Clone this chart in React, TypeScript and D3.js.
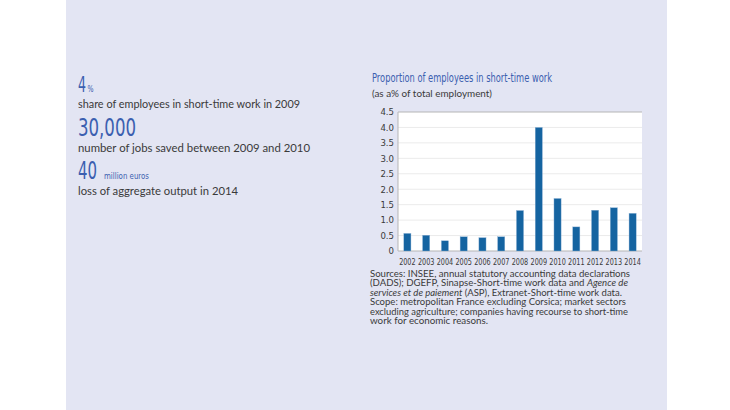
import * as d3 from 'd3';
import React from 'react';

// data
const years = ['2002', '2003', '2004', '2005', '2006', '2007', '2008', '2009', '2010', '2011', '2012', '2013', '2014'];
const shares = [0.57, 0.51, 0.33, 0.46, 0.43, 0.46, 1.31, 4.0, 1.7, 0.78, 1.32, 1.4, 1.22];
const yTicks = [0, 0.5, 1.0, 1.5, 2.0, 2.5, 3.0, 3.5, 4.0, 4.5];

const keyFigures = [
  { big: '4', unit: '%', caption: 'share of employees in short-time work in 2009' },
  { big: '30,000', unit: '', caption: 'number of jobs saved between 2009 and 2010' },
  { big: '40', unit: 'million euros', caption: 'loss of aggregate output in 2014' }
];

const condensed = "'Liberation Sans Narrow', 'DejaVu Sans Condensed', sans-serif";
const body = "Lato, 'Open Sans', sans-serif";
const blue = '#3b5fb0';
const ink = '#3a3a3a';

export default function App() {
  const W = 730;
  const H = 410;
  const margin = { top: 112, left: 398, right: 88, bottom: 159 };
  const plotW = W - margin.left - margin.right;
  const plotH = H - margin.top - margin.bottom;

  const x = d3.scaleBand().domain(years).range([0, plotW]).paddingInner(0.62).paddingOuter(0.31);
  const y = d3.scaleLinear().domain([0, 4.5]).range([plotH, 0]);

  return (
    <div style={{ position: 'fixed', left: 0, top: 0 }}>
      <svg width={W} height={H} style={{ display: 'block' }}>
        <rect x={0} y={0} width={W} height={H} fill="#ffffff" />
        <rect x={66} y={0} width={601} height={H} fill="#e3e5f3" />

        {/* key figures on the left */}
        {keyFigures.map((k, i) => {
          const top = [76, 120, 163][i];
          return (
            <g key={k.big}>
              <text
                x={78}
                y={top + 16}
                fill={blue}
                fontFamily={condensed}
                fontSize={i === 0 ? 22 : 24}
                textLength={i === 1 ? 58 : i === 0 ? 8 : 19}
                lengthAdjust="spacingAndGlyphs"
              >
                {k.big}
              </text>
              {k.unit && (
                <text
                  x={i === 0 ? 87.5 : 104}
                  y={top + 16}
                  fill={blue}
                  fontFamily={condensed}
                  fontSize={i === 0 ? 8 : 9}
                  textLength={i === 0 ? 6 : 45}
                  lengthAdjust="spacingAndGlyphs"
                >
                  {k.unit}
                </text>
              )}
              <text
                x={78}
                y={top + 31.5}
                fill={ink}
                fontFamily={body}
                fontSize={10.5}
                textLength={[222, 232, 160][i]}
                lengthAdjust="spacingAndGlyphs"
              >
                {k.caption}
              </text>
            </g>
          );
        })}

        {/* chart heading */}
        <text x={372} y={82} fill={blue} fontFamily={condensed} fontSize={12.5} textLength={180} lengthAdjust="spacingAndGlyphs">
          Proportion of employees in short-time work
        </text>
        <text x={372} y={97} fill={ink} fontFamily={body} fontSize={8.6} textLength={120} lengthAdjust="spacingAndGlyphs">
          (as a% of total employment)
        </text>

        <g transform={`translate(${margin.left},${margin.top})`}>
          <rect x={0} y={0} width={plotW} height={plotH} fill="#ffffff" />
          {yTicks.filter((t) => t > 0 && t < 4.5).map((t) => (
            <line key={t} x1={0} x2={plotW} y1={y(t)} y2={y(t)} stroke="#ebebeb" strokeWidth={1} />
          ))}
          <line x1={0} x2={plotW} y1={y(4.5)} y2={y(4.5)} stroke="#b5b5b5" strokeWidth={1} />
          <line x1={0} x2={plotW} y1={y(0)} y2={y(0)} stroke="#b5b5b5" strokeWidth={1} />
          <line x1={0} x2={0} y1={0} y2={plotH} stroke="#b5b5b5" strokeWidth={1} />

          {years.map((yr, i) => (
            <rect
              key={yr}
              x={x(yr)!}
              y={y(shares[i])}
              width={x.bandwidth()}
              height={y(0) - y(shares[i])}
              fill="#1564a1"
              stroke="#8fb3d6"
              strokeWidth={0.4}
            />
          ))}

          {yTicks.map((t) => (
            <text
              key={t}
              x={-4}
              y={y(t)}
              dy="0.35em"
              textAnchor="end"
              fill={ink}
              fontFamily={condensed}
              fontSize={9.5}
            >
              {t === 0 ? '0' : d3.format('.1f')(t)}
            </text>
          ))}

          {years.map((yr) => (
            <text
              key={yr}
              x={x(yr)! + x.bandwidth() / 2}
              y={plotH + 13.5}
              textAnchor="middle"
              fill={ink}
              fontFamily={condensed}
              fontSize={9}
              textLength={16.5}
              lengthAdjust="spacingAndGlyphs"
            >
              {yr}
            </text>
          ))}
        </g>

        {/* sources */}
        <g fill={ink} fontFamily={body} fontSize={8.7}>
          <text x={370} y={276.5} textLength={260} lengthAdjust="spacingAndGlyphs">
            Sources: INSEE, annual statutory accounting data declarations
          </text>
          <text x={370} y={286} textLength={258} lengthAdjust="spacingAndGlyphs">
            (DADS); DGEFP, Sinapse-Short-time work data and <tspan fontStyle="italic">Agence de</tspan>
          </text>
          <text x={370} y={295.5} textLength={252} lengthAdjust="spacingAndGlyphs">
            <tspan fontStyle="italic">services et de paiement</tspan> (ASP), Extranet-Short-time work data.
          </text>
          <text x={370} y={305} textLength={256} lengthAdjust="spacingAndGlyphs">
            Scope: metropolitan France excluding Corsica; market sectors
          </text>
          <text x={370} y={314.5} textLength={258} lengthAdjust="spacingAndGlyphs">
            excluding agriculture; companies having recourse to short-time
          </text>
          <text x={370} y={324} textLength={118} lengthAdjust="spacingAndGlyphs">
            work for economic reasons.
          </text>
        </g>
      </svg>
    </div>
  );
}
